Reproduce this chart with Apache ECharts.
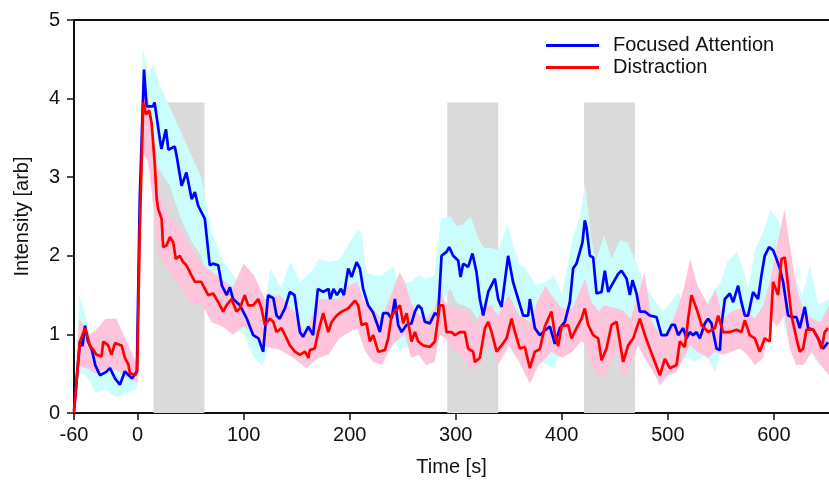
<!DOCTYPE html>
<html>
<head>
<meta charset="utf-8">
<script src="https://cdn.jsdelivr.net/npm/echarts@6/dist/echarts.min.js"></script>
<style>html,body{margin:0;padding:0;background:#fff}#c{width:829px;height:482px}</style>
</head>
<body>
<div id="c"></div>
<script>
// ---- data ----
const xTicks = [-60, 0, 100, 200, 300, 400, 500, 600];
const yTicks = [0, 1, 2, 3, 4, 5];
const seriesNames = ['Focused Attention', 'Distraction'];

const boxStart = [15, 292, 421];
const boxEnd = [63, 340, 469];
const boxTop = [3.95, 3.95, 3.95];

const blueT = [-60,-57,-54.4,-52,-49.6,-46.8,-43,-40,-35.5,-30,-26,-21.4,-16.7,-12,-5.4,-0.7,2,6,8.5,14.5,16,21,22.5,26.7,29,35,36.7,41.5,46,51,54,57,63.4,68,71,76,79.5,84,87,90,96.5,103,109,114,118.4,123,128,131,134,138.9,143.6,148,153,156,161,165.5,170,175,180,181.6,184.7,188,191.7,194.5,198.6,201.8,206.5,209.6,212.7,217.4,222,228.5,231.5,236,239.5,242.6,245.7,248.9,253.6,258.3,261.5,264.6,267.7,270.9,275.6,280.3,283.4,286.6,291.3,293.8,297.6,302.3,304.5,307,311.7,315.8,319.6,322.7,325.9,330.6,336.9,340,343.2,349.4,354,358.9,363.6,368.3,369.9,374.6,379.3,384,388.8,393.5,398.2,402.9,407.6,410.7,413.9,417,419.5,421.7,423.3,426.5,429.6,432.8,437.5,440.6,443.8,446.9,453.2,456.3,461.1,464.2,466.7,470.5,473.6,478.4,483,489.3,494,498.8,503.5,506.6,509.8,514.4,517.6,520.7,523.9,527,530.2,534.9,538,541.2,545.9,549.1,550.6,553.8,558.5,561.6,566.3,569.4,572.6,575.7,580.4,585.1,588.3,591.4,595.5,599.3,602.5,605.6,608.7,613.4,618.2,621.3,624.4,629.2,632.3,637,641.7,646.4,651.1];
const blueY = [0.03,0.5,0.91,0.85,1.11,0.91,0.8,0.61,0.48,0.52,0.57,0.44,0.36,0.53,0.44,0.53,2.72,4.37,3.9,3.9,3.95,3.48,3.36,3.61,3.35,3.39,3.28,2.89,3.06,2.72,2.81,2.64,2.47,1.88,1.9,1.88,1.62,1.5,1.6,1.45,1.37,1.2,0.99,0.95,0.78,1.5,1.46,1.24,1.2,1.33,1.54,1.5,1.03,0.97,1.1,0.99,1.58,1.54,1.58,1.45,1.58,1.5,1.58,1.5,1.84,1.73,1.92,1.84,1.58,1.37,1.28,1.03,1.27,1.27,1.2,1.45,1.12,1.03,1.12,1.14,1.29,1.37,1.33,1.16,1.14,1.27,1.24,2.0,2.05,2.11,2.0,1.94,1.73,1.9,1.86,2.03,1.79,1.45,1.24,1.54,1.71,1.45,1.35,2.0,1.67,1.45,1.24,1.24,1.45,1.08,0.99,1.05,1.1,0.88,1.08,1.16,1.41,1.84,1.9,2.05,2.17,2.45,2.36,2.0,1.98,1.52,1.54,1.81,1.54,1.62,1.77,1.81,1.71,1.5,1.69,1.52,1.29,1.29,1.24,1.22,0.99,0.99,1.12,1.12,0.99,1.08,0.95,1.03,0.99,1.03,0.95,1.14,1.2,1.14,0.82,0.8,1.12,1.45,1.52,1.41,1.62,1.41,1.24,1.24,1.54,1.45,1.75,2.0,2.11,2.07,1.96,1.84,1.67,1.24,1.22,1.22,1.08,1.35,1.08,1.06,0.95,0.82,0.9];

const redT = [-60,-57,-54.4,-49.6,-45,-38.7,-34,-32.4,-27.7,-24.6,-21.4,-15.1,-12,-8.8,-7.3,-2.5,-0.4,2,5.3,8,11,13.2,16.3,18,19.5,22.6,24.1,27.2,30.5,33.6,36,39.8,42.9,46,50.8,54,60,63.4,66.6,71.3,76,80.7,83.8,88.5,93.3,96.4,101,104.2,109,113.7,116.8,120,124.7,128,131,135.7,140.5,143.6,148.4,153,157.8,161,162.4,167,170.3,175,179.8,183,187.7,192.4,198.6,204.9,208,211.2,215.9,219,222.2,226.9,233.2,236.3,239.5,242.6,247.3,250.5,253.6,258.3,261.5,264.6,269.3,275.6,280.3,285,288.2,291.3,296,299.2,303.9,308.6,311.7,316.4,318,322.7,327.5,330.6,333.8,338.5,343.2,347.9,352.6,355.8,360.5,365.2,369.9,374.6,379.3,384,390.3,393.5,396.6,399.8,406,409.2,413.9,418.6,421.7,424.9,429.6,434.3,437.5,442.2,446.9,451.6,457.9,462.6,467.4,473.6,478.4,483,487.8,492.5,497.2,501.9,508.2,511.3,516,519.2,522.3,527,531.8,538,544.4,547.5,552.2,558.5,564.8,569.4,572.6,577.3,582,586.7,591.4,596.1,599.3,604,607.2,610.3,613.4,616.6,621.3,624.4,627.6,630.7,637,641.7,644.9,648,651];
const redY = [0.0,0.5,0.91,1.08,0.86,0.74,0.72,0.91,0.86,0.74,0.89,0.86,0.7,0.62,0.51,0.48,0.53,2.3,3.95,3.8,3.85,3.69,3.14,2.72,2.59,2.47,2.11,2.13,2.24,2.17,1.96,2.0,1.92,1.88,1.75,1.67,1.67,1.58,1.5,1.52,1.41,1.29,1.37,1.45,1.29,1.33,1.5,1.37,1.37,1.45,1.33,1.12,1.2,1.16,1.03,1.08,0.95,0.86,0.78,0.74,0.78,0.7,0.8,0.82,1.03,1.27,1.03,1.16,1.24,1.29,1.33,1.43,1.37,1.12,1.14,0.91,0.99,0.78,0.8,0.95,1.24,1.29,1.37,1.14,1.27,0.91,1.03,0.91,0.86,0.84,0.91,1.37,1.37,1.03,1.03,0.99,1.03,1.03,0.82,0.78,0.65,0.7,1.08,1.16,1.03,0.78,0.86,0.95,1.2,1.03,0.82,0.84,0.57,0.78,0.81,1.1,1.29,1.0,0.85,1.1,1.12,0.95,1.08,1.2,1.33,1.12,0.99,0.95,0.67,0.82,1.12,1.16,0.65,0.86,0.95,1.2,0.99,0.82,0.65,0.48,0.69,0.57,0.61,0.91,0.84,1.2,1.5,1.33,1.12,1.03,1.08,1.24,1.03,1.03,1.06,1.03,1.18,0.99,0.95,0.78,0.95,0.91,1.67,1.5,1.96,1.98,1.62,1.24,0.95,0.78,0.82,1.06,1.06,0.95,0.82,1.03,1.08];

const cyanT  = [-60,-57,-55,-50,-45,-40,-30,-20,-10,-2,0,2,5,10,15,20,30,40,50,60,70,80,90,100,110,118,125,135,144,153,160,166,170,181,190,200,207,211,216,222,230,241,247,257,265,272,280,286,295,301,307,314,322,327,333,340,349,355,360,366,375,385,393,400,410,418,422,427,432,440,447,455,462,470,478,487,495,503,510,518,525,535,545,550,556,565,571,576,582,590,597,605,612,620,627,634,642,652];
const cyanLo = [0.0,0.3,0.5,0.5,0.4,0.25,0.3,0.2,0.25,0.3,0.35,2.2,3.7,3.6,3.55,3.1,2.9,2.5,2.2,2.0,1.5,1.3,1.1,1.0,0.7,0.6,0.9,0.9,0.95,0.7,0.72,0.74,1.12,1.12,1.12,1.37,1.45,1.3,0.95,0.9,0.7,0.95,0.8,0.86,0.95,0.74,0.82,1.41,1.58,1.4,1.37,1.33,1.16,0.82,1.03,1.03,1.2,1.1,0.9,0.74,0.65,0.63,0.57,0.86,1.12,1.29,1.63,1.45,1.08,1.16,1.16,1.33,1.16,1.08,0.95,0.7,0.65,0.74,0.65,0.7,0.65,0.74,0.52,0.82,1.16,0.95,0.82,0.85,1.08,1.24,1.5,1.37,0.99,0.82,0.95,0.8,0.61,0.65];
const cyanHi = [0.05,0.8,1.5,1.3,1.0,0.85,0.75,0.7,0.7,0.7,0.75,3.4,4.65,4.3,4.45,4.2,3.9,3.6,3.3,3.0,2.3,1.95,1.75,1.6,1.35,1.1,1.84,1.6,1.92,1.67,1.75,1.84,1.96,1.92,1.95,2.17,2.32,2.3,1.78,1.75,1.75,1.87,1.63,1.67,1.75,1.71,1.75,2.47,2.5,2.38,2.4,2.5,2.2,2.1,2.1,2.07,2.4,2.1,1.9,1.84,1.63,1.67,1.75,1.5,2.2,2.55,2.93,2.3,1.92,2.26,1.96,2.2,2.17,1.92,1.62,1.45,1.29,1.41,1.54,1.2,1.29,1.37,1.58,1.67,1.92,2.05,1.84,1.58,2.07,2.3,2.59,2.43,2.13,1.71,1.5,1.88,1.37,1.45];

const pinkT  = [-60,-57,-55,-45,-40,-30,-20,-10,-2,0,2,5,10,15,20,30,40,50,60,70,80,90,100,110,120,134,147,159,170,180,190,200,207,215,222,230,240,247,252,258,265,272,280,285,290,298,305,312,318,325,333,340,350,360,370,378,385,390,400,410,418,422,428,435,440,445,452,458,465,472,478,485,493,500,508,515,521,528,538,545,552,560,568,575,582,590,597,603,610,615,621,628,636,644,652];
const pinkLo = [0.0,0.3,0.6,0.55,0.5,0.55,0.55,0.45,0.4,0.4,1.8,3.3,3.2,2.6,2.0,1.8,1.6,1.4,1.4,1.15,1.1,1.0,1.1,1.0,0.85,0.8,0.7,0.57,0.7,0.74,0.95,1.03,1.08,0.78,0.65,0.61,0.86,0.95,1.0,0.7,0.74,0.61,0.65,1.0,0.95,0.8,0.74,0.61,0.52,0.82,0.86,0.61,0.86,0.65,0.37,0.61,0.7,0.78,0.7,0.78,0.91,0.9,0.6,0.48,0.44,0.61,0.78,0.44,0.61,0.86,0.7,0.55,0.35,0.48,0.52,0.7,0.86,0.78,0.7,0.78,0.74,0.78,0.82,0.74,0.61,0.7,1.2,1.1,1.24,0.82,0.61,0.61,0.78,0.61,0.48];
const pinkHi = [0.05,0.9,1.2,1.0,1.05,1.2,1.2,0.9,0.65,0.7,2.7,4.0,4.0,3.6,2.8,2.5,2.35,2.1,1.9,1.8,1.7,1.6,1.9,1.75,1.45,1.5,1.3,1.0,1.45,1.45,1.45,1.63,1.67,1.37,1.33,1.2,1.54,1.79,1.67,1.4,1.25,1.2,1.33,1.58,1.41,1.33,1.3,1.29,1.12,1.33,1.37,1.24,1.5,1.24,1.16,1.45,1.62,1.5,1.33,1.33,1.58,1.71,1.41,1.29,1.37,1.35,1.33,1.3,1.2,1.5,1.79,1.16,0.99,1.03,1.29,1.58,1.96,1.62,1.37,1.58,1.2,1.29,1.33,1.29,1.2,1.37,1.71,2.13,2.59,2.13,1.62,1.29,1.2,1.16,1.37];

// ---- styles ----
const FONT = "'Liberation Sans', Arial, Helvetica, sans-serif";
const BLUE = '#0000ff', RED = '#ff0000';
const CYAN = '#ccfdfd', PINK = '#fdc4db', GRAY = '#d9dad9';

const zip = (t, v) => t.map((x, i) => [x, v[i]]);

function bandSeries(t, lo, hi, color, z) {
  return {
    type: 'custom', silent: true, z: z,
    data: [[t[0], lo[0]]],
    renderItem: function (params, api) {
      const pts = [];
      for (let i = 0; i < t.length; i++) pts.push(api.coord([t[i], hi[i]]));
      for (let i = t.length - 1; i >= 0; i--) pts.push(api.coord([t[i], lo[i]]));
      return { type: 'polygon', shape: { points: pts }, style: { fill: color } };
    }
  };
}

const chart = echarts.init(document.getElementById('c'));
chart.setOption({
  animation: false,
  textStyle: { fontFamily: FONT },
  grid: { left: 74, right: 0, top: 20, bottom: 67 },
  legend: {
    data: seriesNames.map(n => ({ name: n, icon: 'rect' })),
    orient: 'vertical', left: 546, top: 35, padding: 0,
    itemWidth: 53, itemHeight: 3, itemGap: 1,
    textStyle: { fontSize: 20, color: '#111', fontFamily: FONT, lineHeight: 21, padding: [0, 0, 0, 9] },
    selectedMode: false
  },
  xAxis: [{
    type: 'value', min: -60, max: 652,
    name: 'Time [s]', nameLocation: 'middle', nameGap: 44,
    nameTextStyle: { fontSize: 20, color: '#111', fontFamily: FONT },
    axisLine: { onZero: false, lineStyle: { color: '#111', width: 2 } },
    axisTick: { length: 7, lineStyle: { color: '#111', width: 1.5 }, customValues: xTicks },
    axisLabel: { fontSize: 20, color: '#111', margin: 12, customValues: xTicks },
    splitLine: { show: false }
  }, {
    type: 'value', min: -60, max: 652, position: 'top',
    axisLine: { show: true, onZero: false, lineStyle: { color: '#111', width: 2 } },
    axisTick: { show: false }, axisLabel: { show: false }, splitLine: { show: false }
  }],
  yAxis: {
    type: 'value', min: 0, max: 5, interval: 1,
    name: 'Intensity [arb]', nameLocation: 'middle', nameGap: 42,
    nameTextStyle: { fontSize: 20, color: '#111', fontFamily: FONT },
    axisLine: { show: true, onZero: false, lineStyle: { color: '#111', width: 2 } },
    axisTick: { show: true, length: 7, lineStyle: { color: '#111', width: 1.5 } },
    axisLabel: { fontSize: 20, color: '#111', margin: 14,
      formatter: v => (yTicks.indexOf(v) >= 0 ? String(v) : '') },
    splitLine: { show: false }
  },
  series: [
    {
      type: 'custom', silent: true, z: 1,
      data: boxStart.map((s, i) => [s, boxEnd[i], boxTop[i]]),
      renderItem: function (params, api) {
        const p1 = api.coord([api.value(0), api.value(2)]);
        const p2 = api.coord([api.value(1), 0]);
        return { type: 'rect', shape: { x: p1[0], y: p1[1], width: p2[0] - p1[0], height: p2[1] - p1[1] }, style: { fill: GRAY } };
      }
    },
    bandSeries(cyanT, cyanLo, cyanHi, CYAN, 2),
    bandSeries(pinkT, pinkLo, pinkHi, PINK, 3),
    {
      name: seriesNames[0], type: 'line', z: 5, data: zip(blueT, blueY),
      showSymbol: false, symbol: 'none', lineStyle: { color: BLUE, width: 2.7 },
      itemStyle: { color: BLUE }
    },
    {
      name: seriesNames[1], type: 'line', z: 6, data: zip(redT, redY),
      showSymbol: false, symbol: 'none', lineStyle: { color: RED, width: 2.7 },
      itemStyle: { color: RED }
    }
  ]
});
</script>
</body>
</html>
